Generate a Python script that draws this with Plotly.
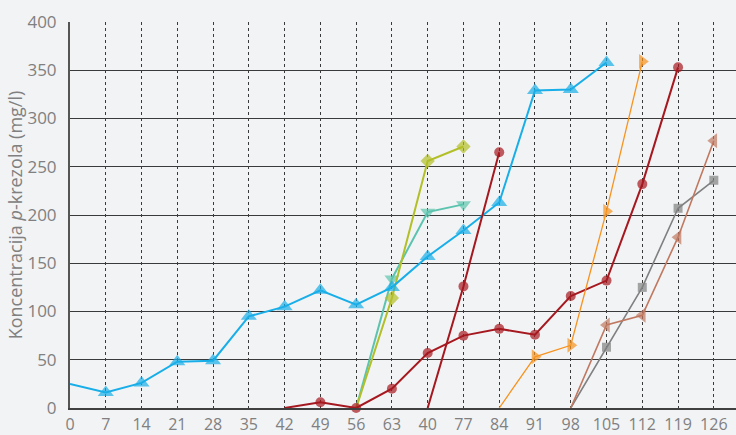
import plotly.graph_objects as go

# x-axis categories (sampling days) as labelled on the chart
categories = ["0", "7", "14", "21", "28", "35", "42", "49", "56", "63", "40",
              "77", "84", "91", "98", "105", "112", "119", "126"]

# each series: the categories it spans and the p-cresol concentrations (mg/l)
blue_x = categories[0:16]
blue_y = [25, 16, 26, 48, 49, 95, 105, 122, 107, 125, 157, 184, 213, 329, 330, 358]

red_a_x = categories[6:18]
red_a_y = [0, 6, 0, 20, 57, 75, 82, 76, 116, 132, 232, 353]

red_b_x = categories[10:13]
red_b_y = [0, 126, 265]

olive_x = categories[8:12]
olive_y = [0, 114, 256, 271]

teal_x = categories[8:12]
teal_y = [0, 134, 203, 211]

orange_x = categories[12:17]
orange_y = [0, 53, 65, 204, 359]

grey_x = categories[14:19]
grey_y = [0, 63, 125, 207, 236]

brown_x = categories[14:19]
brown_y = [0, 86, 96, 177, 277]

y_ticks = [0, 50, 100, 150, 200, 250, 300, 350, 400]


def sizes(n, s, hide_first=True):
    out = [s] * n
    if hide_first:
        out[0] = 0
    return out


series = [
    # name, x, y, colour, line width, marker symbol, marker size
    ("teal", teal_x, teal_y, "#5cc4ae", 2, "triangle-down", 13),
    ("olive", olive_x, olive_y, "#b3bf27", 2, "diamond", 11),
    ("blue", blue_x, blue_y, "#18aee8", 2, "triangle-up", 14),
    ("red_a", red_a_x, red_a_y, "#a6181f", 2, "circle", 10),
    ("red_b", red_b_x, red_b_y, "#a6181f", 2, "circle", 10),
    ("orange", orange_x, orange_y, "#f7931e", 1.3, "triangle-right", 13),
    ("grey", grey_x, grey_y, "#808080", 1.6, "square", 9),
    ("brown", brown_x, brown_y, "#c07860", 1.6, "triangle-left", 13),
]

fig = go.Figure()
for name, xs, ys, col, lw, sym, ms in series:
    fig.add_trace(go.Scatter(
        x=xs, y=ys, name=name, mode="lines+markers",
        line=dict(color=col, width=lw),
        marker=dict(color=col, symbol=sym, size=sizes(len(xs), ms),
                    line=dict(width=0)),
        cliponaxis=False,
    ))

fig.update_layout(
    width=736, height=435,
    margin=dict(l=70, r=0, t=22, b=27),
    paper_bgcolor="#f2f3f5",
    plot_bgcolor="#f2f3f5",
    showlegend=False,
    font=dict(family="Open Sans", size=16, color="#808080"),
)

fig.update_xaxes(
    type="category",
    categoryorder="array", categoryarray=categories,
    range=[0, 18.62],
    showgrid=True, gridcolor="#3a3a3a", gridwidth=1, griddash="dot",
    showline=True, linecolor="#404040", linewidth=2,
    ticks="", ticklabelstandoff=1,
    tickfont=dict(size=16, color="#808080"),
    zeroline=False, automargin=False,
)

fig.update_yaxes(
    range=[0, 400],
    tickvals=y_ticks,
    showgrid=True, gridcolor="#3a3a3a", gridwidth=1,
    showline=True, linecolor="#555555", linewidth=2,
    ticks="", ticklabelstandoff=8,
    tickfont=dict(size=17, color="#808080"),
    zeroline=False, automargin=False,
    title=dict(text="Koncentracija <i>p</i>-krezola (mg/l)",
               font=dict(size=18, color="#808080"), standoff=0),
)

fig.write_html("out.html")
